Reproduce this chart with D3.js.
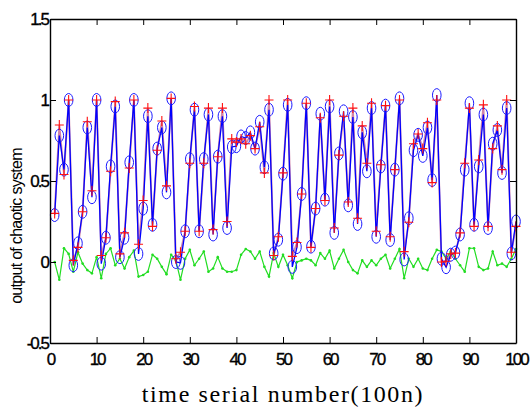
<html>
  <head>
    <style>
      body {
        margin:0;
        background:#fff;
      }
      .axis .domain {
        fill:none;
        stroke:black;
        stroke-width:1.4;
      }
      .axis .tick line {
        stroke:black;
        stroke-width:1;
      }
      .axis .tick text {
        fill:black;
        stroke:black;
        stroke-width:0.35;
        font-family:Arial, "Liberation Sans", sans-serif;
        font-size:17px;
        letter-spacing:-2px;
      }
    </style>
  </head>
  <body>
    <div class="graph"></div>
    <script src="https://d3js.org/d3.v7.min.js"></script>
    <script>
      var width = 531;
      var height = 412;
      var margin = {top:19, right:15, bottom:69, left:50};

      // predicted output (blue circles)
      var blueVals = [0.29, 0.78, 0.57, 1.00, -0.02, 0.115, 0.31, 0.83, 0.40, 1.00,
        -0.01, 0.15, 0.59, 0.96, 0.03, 0.15, 0.615, 1.00, 0.05, 0.33,
        0.90, 0.23, 0.70, 0.83, 0.43, 1.01, 0.00, -0.005, 0.19, 0.635,
        0.94, 0.19, 0.635, 0.91, 0.17, 0.65, 0.90, 0.21, 0.71, 0.715,
        0.775, 0.765, 0.80, 0.70, 0.865, 0.585, 0.94, 0.053, 0.138, 0.545,
        0.97, -0.03, 0.092, 0.42, 0.98, 0.095, 0.33, 0.915, 0.385, 0.96,
        0.18, 0.67, 0.93, 0.35, 0.895, 0.235, 0.80, 0.56, 0.95, 0.156,
        0.59, 0.965, 0.136, 0.57, 1.01, 0.016, 0.27, 0.69, 0.785, 0.655,
        0.83, 0.506, 1.03, 0.02, -0.032, 0.045, 0.058, 0.17, 0.57, 0.98,
        0.23, 0.59, 0.91, 0.21, 0.73, 0.815, 0.55, 0.95, 0.053, 0.25];

      // actual output (red crosses)
      var redVals = [0.30, 0.846, 0.54, 1.00, 0.01, 0.09, 0.31, 0.866, 0.44, 1.00,
        0.04, 0.15, 0.56, 0.99, 0.05, 0.18, 0.58, 1.00, 0.11, 0.38,
        0.95, 0.22, 0.69, 0.87, 0.47, 1.01, 0.02, 0.06, 0.19, 0.61,
        0.96, 0.19, 0.61, 0.95, 0.20, 0.65, 0.95, 0.25, 0.76, 0.74,
        0.76, 0.73, 0.78, 0.70, 0.835, 0.55, 1.00, 0.04, 0.156, 0.55,
        1.00, 0.035, 0.12, 0.42, 0.98, 0.09, 0.33, 0.89, 0.38, 1.00,
        0.21, 0.66, 0.90, 0.37, 0.95, 0.27, 0.84, 0.61, 0.98, 0.19,
        0.60, 0.965, 0.156, 0.57, 1.00, 0.064, 0.245, 0.73, 0.79, 0.70,
        0.86, 0.49, 1.00, 0.00, 0.005, 0.05, 0.055, 0.18, 0.61, 0.95,
        0.22, 0.63, 0.97, 0.22, 0.70, 0.84, 0.57, 1.00, 0.06, 0.22];

      // error (green)
      var greenVals = [0.0, -0.11, 0.085, 0.05, -0.06, 0.06, -0.01, -0.05, -0.07, 0.03,
        -0.10, 0.05, 0.085, -0.02, 0.02, -0.04, 0.03, 0.07, -0.09, -0.08,
        -0.06, 0.045, 0.02, -0.03, -0.075, 0.045, 0.01, -0.11, 0.02, 0.075,
        -0.02, 0.02, 0.065, -0.06, -0.04, 0.03, -0.04, -0.06, -0.06, -0.05,
        0.045, 0.08, 0.065, 0.02, 0.065, -0.03, -0.09, 0.055, -0.03, 0.045,
        -0.02, -0.10, 0.0, 0.01, 0.02, 0.01, -0.02, 0.055, 0.02, 0.07,
        -0.04, 0.02, 0.075, 0.0, -0.05, -0.07, 0.01, -0.03, 0.01, -0.02,
        0.02, 0.045, -0.04, 0.02, 0.08, -0.10, 0.02, -0.03, 0.02, -0.04,
        -0.05, 0.02, 0.075, 0.065, 0.02, 0.065, 0.02, -0.02, -0.06, 0.085,
        0.085, -0.03, -0.05, -0.04, 0.065, -0.02, -0.01, -0.03, 0.02, 0.08];

      var xTicks = [0, 10, 20, 30, 40, 50, 60, 70, 80, 90, 100];
      var yTicks = [-0.5, 0, 0.5, 1, 1.5];

      var w = width - margin.left - margin.right;
      var h = height - margin.top - margin.bottom;

      var x = d3.scaleLinear().domain([0, 100]).range([0, w]);
      var y = d3.scaleLinear().domain([-0.5, 1.5]).range([h, 0]);

      var svg = d3.select(".graph").append("svg")
        .attr("width", width)
        .attr("height", height);

      var g = svg.append("g")
        .attr("transform", "translate(" + margin.left + "," + margin.top + ")");

      var line = d3.line()
        .x(function (d, i) { return x(i + 1); })
        .y(function (d) { return y(d); });

      // green error line with small dots
      g.append("path")
        .datum(greenVals)
        .attr("d", line)
        .attr("fill", "none")
        .attr("stroke", "#22dd22")
        .attr("stroke-width", 1.2);

      g.selectAll(".gdot").data(greenVals).enter().append("circle")
        .attr("class", "gdot")
        .attr("cx", function (d, i) { return x(i + 1); })
        .attr("cy", function (d) { return y(d); })
        .attr("r", 1.3)
        .attr("fill", "#22dd22");

      // red line then blue line over it
      g.append("path")
        .datum(redVals)
        .attr("d", line)
        .attr("fill", "none")
        .attr("stroke", "#b03070")
        .attr("stroke-opacity", 0.6)
        .attr("stroke-width", 1.8);

      g.append("path")
        .datum(blueVals)
        .attr("d", line)
        .attr("fill", "none")
        .attr("stroke", "#0000ff")
        .attr("stroke-width", 1.3);

      g.selectAll(".bmark").data(blueVals).enter().append("ellipse")
        .attr("class", "bmark")
        .attr("cx", function (d, i) { return x(i + 1); })
        .attr("cy", function (d) { return y(d); })
        .attr("rx", 4.3)
        .attr("ry", 6.5)
        .attr("fill", "none")
        .attr("stroke", "#1a1aff")
        .attr("stroke-width", 1);

      g.selectAll(".rmark").data(redVals).enter().append("path")
        .attr("class", "rmark")
        .attr("transform", function (d, i) {
          return "translate(" + x(i + 1) + "," + y(d) + ")";
        })
        .attr("d", "M-4.5,0H4.5M0,-5V5")
        .attr("stroke", "#ff1010")
        .attr("stroke-width", 1.1);

      // axes box with inward ticks
      g.append("g")
        .attr("class", "axis")
        .attr("transform", "translate(0," + h + ")")
        .call(d3.axisBottom(x).tickValues(xTicks).tickSizeInner(-6).tickSizeOuter(0).tickPadding(10)
          .tickFormat(d3.format("d")));

      g.append("g")
        .attr("class", "axis")
        .call(d3.axisTop(x).tickValues(xTicks).tickSizeInner(-6).tickSizeOuter(0).tickFormat(""));

      g.append("g")
        .attr("class", "axis")
        .call(d3.axisLeft(y).tickValues(yTicks).tickSizeInner(-6).tickSizeOuter(0).tickPadding(2)
          .tickFormat(function (d) { return String(d); }));

      g.append("g")
        .attr("class", "axis")
        .attr("transform", "translate(" + w + ",0)")
        .call(d3.axisRight(y).tickValues(yTicks).tickSizeInner(-6).tickSizeOuter(0).tickFormat(""));

      // labels
      svg.append("text")
        .attr("x", 283)
        .attr("y", 402)
        .attr("text-anchor", "middle")
        .attr("font-family", "'Liberation Serif', 'Times New Roman', serif")
        .attr("font-size", 24)
        .attr("letter-spacing", "1.6px")
        .text("time serial number(100n)");

      svg.append("text")
        .attr("transform", "translate(22,226) rotate(-90)")
        .attr("text-anchor", "middle")
        .attr("font-family", "Arial, 'Liberation Sans', sans-serif")
        .attr("font-size", 16)
        .attr("letter-spacing", "-0.7px")
        .text("output of chaotic system");
    </script>
  </body>
</html>
